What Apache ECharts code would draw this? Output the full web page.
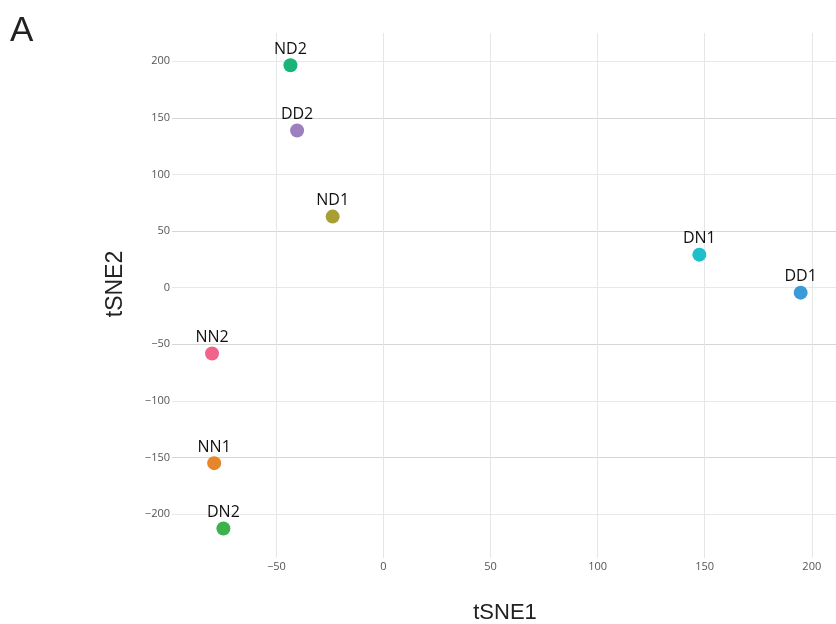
<!DOCTYPE html>
<html>
<head>
<meta charset="utf-8">
<title>tSNE</title>
<script src="https://cdn.jsdelivr.net/npm/echarts@6/dist/echarts.min.js"></script>
<style>
  html, body { margin: 0; padding: 0; background: #fff; }
  #chart { width: 836px; height: 624px; }
</style>
</head>
<body>
<div id="chart"></div>
<script>
// Sample embedding coordinates
const samples = ['ND2', 'DD2', 'ND1', 'NN2', 'NN1', 'DN2', 'DN1', 'DD1'];
const tsne1 = [-43.4, -40.3, -23.7, -80.0, -79.0, -74.7, 147.5, 194.8];
const tsne2 = [196.5, 138.9, 62.8, -58.1, -155.0, -212.7, 29.2, -4.4];

// One colour per sample, same order as above
const palette = ['#1bb478', '#9c7fbd', '#a89f32', '#f0648c', '#e6862a', '#3db24c', '#1ebfca', '#3a9bd8'];

// Axis window and tick spacing
const xRange = [-98.7, 211.3];
const yRange = [-238.8, 225.0];
const tickStep = 50;

const points = samples.map((name, i) => ({
  name: name,
  value: [tsne1[i], tsne2[i]],
  itemStyle: { color: palette[i], opacity: 1 }
}));

const tickFont = { fontFamily: 'Open Sans', fontSize: 11, color: '#555' };
const fmtTick = v => (Math.abs(v % tickStep) < 1e-9 ? String(v).replace('-', '\u2212') : '');

const chart = echarts.init(document.getElementById('chart'), null, { renderer: 'canvas' });
chart.setOption({
  animation: false,
  backgroundColor: '#ffffff',
  grid: { left: 172, right: 0, top: 33, bottom: 66, containLabel: false, outerBoundsMode: 'none' },
  xAxis: {
    type: 'value',
    min: xRange[0],
    max: xRange[1],
    minInterval: tickStep,
    maxInterval: tickStep,
    axisLine: { show: false },
    axisTick: { show: false },
    axisLabel: Object.assign({ margin: 3, showMinLabel: false, showMaxLabel: false, formatter: fmtTick }, tickFont),
    splitLine: { show: true, showMinLine: false, showMaxLine: false, lineStyle: { color: '#e6e6e6', width: 1 } }
  },
  yAxis: {
    type: 'value',
    min: yRange[0],
    max: yRange[1],
    minInterval: tickStep,
    maxInterval: tickStep,
    axisLine: { show: false },
    axisTick: { show: false },
    axisLabel: Object.assign({ margin: 2, showMinLabel: false, showMaxLabel: false, formatter: fmtTick }, tickFont),
    splitLine: { show: true, showMinLine: false, showMaxLine: false, lineStyle: { color: ['#e8e8e8', '#d6d6d6'], width: 1 } }
  },
  series: [{
    type: 'scatter',
    symbol: 'circle',
    symbolSize: 14,
    data: points,
    itemStyle: { opacity: 1 },
    label: {
      show: true,
      position: 'top',
      distance: 1,
      formatter: p => p.name,
      fontFamily: 'Open Sans',
      fontSize: 16,
      color: '#111',
      opacity: 1
    },
    emphasis: { disabled: true }
  }],
  graphic: [
    { type: 'text', left: 10, top: 14,
      style: { text: 'A', fontFamily: 'Liberation Sans', fontSize: 35, fill: '#222' } },
    { type: 'text', x: 505, y: 613,
      style: { text: 'tSNE1', fontFamily: 'Liberation Sans', fontSize: 22, fill: '#222', align: 'center', verticalAlign: 'middle' } },
    { type: 'text', x: 116, y: 284, rotation: Math.PI / 2,
      style: { text: 'tSNE2', fontFamily: 'Liberation Sans', fontSize: 23, fill: '#222', align: 'center', verticalAlign: 'middle' } }
  ]
});
</script>
</body>
</html>
